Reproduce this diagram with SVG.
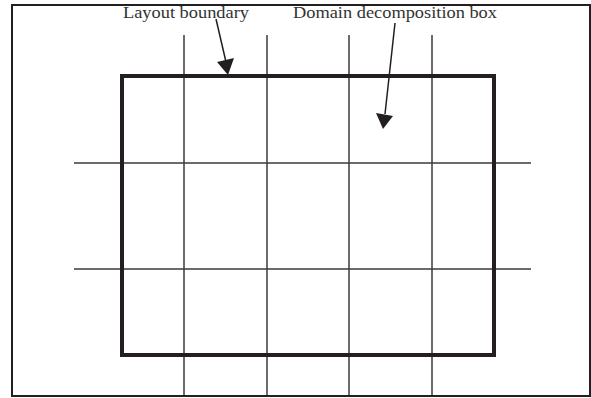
<svg xmlns="http://www.w3.org/2000/svg" width="591" height="398" viewBox="0 0 591 398">
<style>
.grid{stroke:#3a3a3a;stroke-width:1.5;fill:none}
.frame{stroke:#231f20;stroke-width:2;fill:none}
.box{stroke:#231f20;stroke-width:4;fill:none}
.lbl{font-family:"Liberation Serif",serif;font-size:17.5px;fill:#333}
.arr{stroke:#231f20;stroke-width:1.5;fill:none}
.head{fill:#231f20}
</style>
<rect width="591" height="398" fill="#fff"/>
<g id="frame">
<path class="frame" d="M12,397 V5 H590 V396 H12"/>
</g>
<g id="grid">
<line class="grid" x1="184" y1="35" x2="184" y2="395"/>
<line class="grid" x1="267" y1="35" x2="267" y2="395"/>
<line class="grid" x1="349" y1="35" x2="349" y2="395"/>
<line class="grid" x1="432" y1="35" x2="432" y2="395"/>
<line class="grid" x1="74" y1="163" x2="531" y2="163"/>
<line class="grid" x1="74" y1="269" x2="531" y2="269"/>
</g>
<g id="layout-boundary">
<rect class="box" x="122" y="76" width="372" height="279"/>
</g>
<g id="labels">
<text class="lbl" x="123" y="18" textLength="126" lengthAdjust="spacingAndGlyphs">Layout boundary</text>
<text class="lbl" x="293" y="18" textLength="204" lengthAdjust="spacingAndGlyphs">Domain decomposition box</text>
</g>
<g id="connectors">
<line class="arr" x1="216" y1="19" x2="226" y2="62"/>
<polygon class="head" points="228,75 217,62 234,58"/>
<line class="arr" x1="395" y1="23" x2="385" y2="114"/>
<polygon class="head" points="383,129 376,113 393,116"/>
</g>
</svg>
